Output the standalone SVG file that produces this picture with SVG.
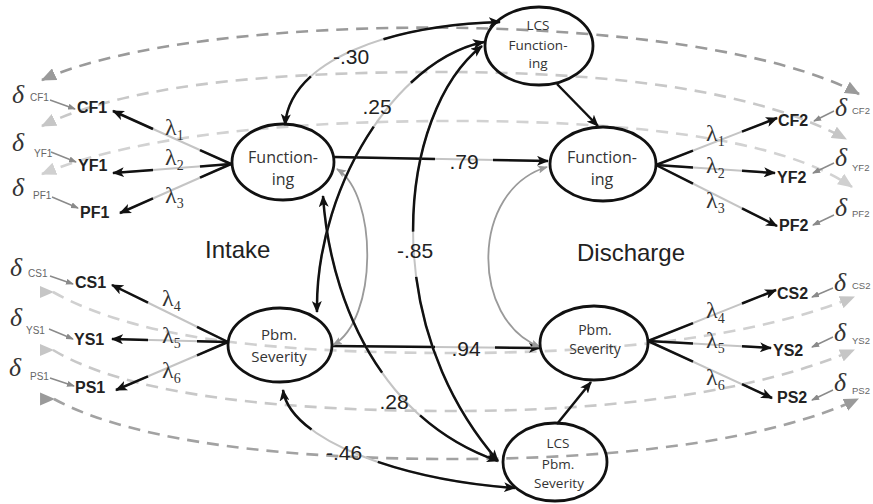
<svg xmlns="http://www.w3.org/2000/svg" width="873" height="504" viewBox="0 0 873 504">
<defs>
<style>
.ell{fill:none;stroke:#111;stroke-width:2.8}
.nt{font-family:"Open Sans","Liberation Sans",sans-serif;fill:#333;text-anchor:middle}
.ind{font-family:"Liberation Sans",Arial,sans-serif;font-weight:bold;font-size:16px;fill:#222}
.lam{font-family:"Liberation Serif","DejaVu Serif",serif;font-size:24px;fill:#333}
.ls{font-size:14px}
.dl{font-family:"Liberation Serif","DejaVu Serif",serif;font-style:italic;font-size:26px;fill:#333}
.sub{font-family:"Liberation Sans",Arial,sans-serif;font-size:10px;fill:#666}
.subr{font-family:"Liberation Sans",Arial,sans-serif;font-size:9.5px;fill:#666}
.num{font-family:"Liberation Sans",Arial,sans-serif;font-size:21px;fill:#222;text-anchor:middle}
.big{font-family:"Liberation Sans",Arial,sans-serif;font-size:24px;fill:#222}
.blk{fill:none;stroke:#111;stroke-width:2.5}
.gry{fill:none;stroke:#c4c4c4;stroke-width:2}
.cov{fill:none;stroke:#9a9a9a;stroke-width:1.8}
.err{stroke:#8a8a8a;stroke-width:1.4}
.dash{fill:none;stroke-width:2.6;stroke-dasharray:12 8}
</style>
<marker id="ah" viewBox="0 0 12 10" refX="11" refY="5" markerWidth="12" markerHeight="10" markerUnits="userSpaceOnUse" orient="auto-start-reverse"><path d="M0,0 L12,5 L0,10 L3,5 z" fill="#111"/></marker>
<marker id="ahg" viewBox="0 0 10 8" refX="9" refY="4" markerWidth="10" markerHeight="8" markerUnits="userSpaceOnUse" orient="auto-start-reverse"><path d="M0,0 L10,4 L0,8 L2,4 z" fill="#9a9a9a"/></marker>
<marker id="ahs" viewBox="0 0 8 6" refX="7" refY="3" markerWidth="8" markerHeight="6" markerUnits="userSpaceOnUse" orient="auto-start-reverse"><path d="M0,0 L8,3 L0,6 z" fill="#8a8a8a"/></marker>
<marker id="dk" viewBox="0 0 14 12" refX="13" refY="6" markerWidth="15" markerHeight="13" markerUnits="userSpaceOnUse" orient="auto-start-reverse"><path d="M0,0 L14,6 L0,12 z" fill="#9a9a9a"/></marker>
<marker id="lt" viewBox="0 0 14 12" refX="13" refY="6" markerWidth="15" markerHeight="13" markerUnits="userSpaceOnUse" orient="auto-start-reverse"><path d="M0,0 L14,6 L0,12 z" fill="#c6c6c6"/></marker>
<marker id="lt2" viewBox="0 0 14 12" refX="13" refY="6" markerWidth="15" markerHeight="13" markerUnits="userSpaceOnUse" orient="auto-start-reverse"><path d="M0,0 L14,6 L0,12 z" fill="#d0d0d0"/></marker>
<marker id="ltR" viewBox="0 0 14 12" refX="13" refY="6" markerWidth="14" markerHeight="13" markerUnits="userSpaceOnUse" orient="0"><path d="M0,0 L14,6 L0,12 z" fill="#c6c6c6"/></marker>
<marker id="dkR" viewBox="0 0 14 12" refX="13" refY="6" markerWidth="15" markerHeight="14" markerUnits="userSpaceOnUse" orient="0"><path d="M0,0 L14,6 L0,12 z" fill="#9a9a9a"/></marker>
</defs>
<rect width="873" height="504" fill="#fff"/>

<g id="connectors">
  <path class="dash" stroke="#9a9a9a" d="M42,80 C 200,8 700,8 859,94" marker-start="url(#dk)" marker-end="url(#dk)"/>
  <path class="dash" stroke="#c8c8c8" d="M42,126 C 120,88 250,72 440,72 C 620,72 760,92 846,139" marker-start="url(#lt)" marker-end="url(#lt)"/>
  <path class="dash" stroke="#d2d2d2" d="M42,174 C 120,142 250,122 440,121 C 620,120 780,137 852,187" marker-start="url(#lt2)" marker-end="url(#lt2)"/>
  <path class="dash" stroke="#d0d0d0" d="M53,292 C 130,335 250,352 440,353 C 620,354 760,335 854,297" marker-start="url(#ltR)" marker-end="url(#lt)"/>
  <path class="dash" stroke="#c8c8c8" d="M53,350 C 120,390 250,410 440,411 C 620,412 760,390 854,350" marker-start="url(#ltR)" marker-end="url(#lt)"/>
  <path class="dash" stroke="#a2a2a2" d="M54,399 C 120,435 250,458 440,459 C 620,460 770,440 858,399" marker-start="url(#dkR)" marker-end="url(#dk)"/>

  <line class="err" x1="50" y1="100" x2="75" y2="109" marker-end="url(#ahs)"/>
  <line class="err" x1="51" y1="152" x2="76" y2="162" marker-end="url(#ahs)"/>
  <line class="err" x1="52" y1="197" x2="78" y2="208" marker-end="url(#ahs)"/>
  <line class="err" x1="50" y1="276" x2="73" y2="284" marker-end="url(#ahs)"/>
  <line class="err" x1="49" y1="329" x2="73" y2="339" marker-end="url(#ahs)"/>
  <line class="err" x1="50" y1="378" x2="74" y2="386" marker-end="url(#ahs)"/>
  <line class="err" x1="834" y1="111" x2="814" y2="121" marker-end="url(#ahs)"/>
  <line class="err" x1="834" y1="163" x2="813" y2="173" marker-end="url(#ahs)"/>
  <line class="err" x1="834" y1="215" x2="813" y2="225" marker-end="url(#ahs)"/>
  <line class="err" x1="833" y1="288" x2="812" y2="297" marker-end="url(#ahs)"/>
  <line class="err" x1="833" y1="337" x2="812" y2="347" marker-end="url(#ahs)"/>
  <line class="err" x1="833" y1="390" x2="812" y2="400" marker-end="url(#ahs)"/>

  <line class="gry" x1="231" y1="164" x2="113" y2="111"/>
  <line class="gry" x1="231" y1="164" x2="113" y2="173"/>
  <line class="gry" x1="231" y1="164" x2="120" y2="213"/>
  <line class="blk" x1="231" y1="164" x2="200" y2="150.1"/>
  <line class="blk" x1="231" y1="164" x2="200" y2="166.4"/>
  <line class="blk" x1="231" y1="164" x2="200" y2="177.7"/>
  <line class="blk" x1="153" y1="129" x2="113" y2="111" marker-end="url(#ah)"/>
  <line class="blk" x1="153" y1="170" x2="113" y2="173" marker-end="url(#ah)"/>
  <line class="blk" x1="153" y1="198.4" x2="120" y2="213" marker-end="url(#ah)"/>
  <line class="gry" x1="228" y1="342" x2="112" y2="285"/>
  <line class="gry" x1="228" y1="342" x2="112" y2="339"/>
  <line class="gry" x1="228" y1="342" x2="116" y2="390"/>
  <line class="blk" x1="228" y1="342" x2="197" y2="326.8"/>
  <line class="blk" x1="228" y1="342" x2="197" y2="341.2"/>
  <line class="blk" x1="228" y1="342" x2="197" y2="355.3"/>
  <line class="blk" x1="148" y1="302.7" x2="112" y2="285" marker-end="url(#ah)"/>
  <line class="blk" x1="148" y1="339.9" x2="112" y2="339" marker-end="url(#ah)"/>
  <line class="blk" x1="148" y1="376.3" x2="116" y2="390" marker-end="url(#ah)"/>
  <line class="gry" x1="656" y1="165" x2="777" y2="118"/>
  <line class="gry" x1="656" y1="165" x2="775" y2="173"/>
  <line class="gry" x1="656" y1="165" x2="777" y2="226"/>
  <line class="blk" x1="656" y1="165" x2="693" y2="150.6"/>
  <line class="blk" x1="656" y1="165" x2="693" y2="167.5"/>
  <line class="blk" x1="656" y1="165" x2="693" y2="183.7"/>
  <line class="blk" x1="742" y1="131.6" x2="777" y2="118" marker-end="url(#ah)"/>
  <line class="blk" x1="742" y1="170.8" x2="775" y2="173" marker-end="url(#ah)"/>
  <line class="blk" x1="742" y1="208.4" x2="777" y2="226" marker-end="url(#ah)"/>
  <line class="gry" x1="648" y1="341" x2="776" y2="290"/>
  <line class="gry" x1="648" y1="341" x2="771" y2="348"/>
  <line class="gry" x1="648" y1="341" x2="772" y2="398"/>
  <line class="blk" x1="648" y1="341" x2="693" y2="323.1"/>
  <line class="blk" x1="648" y1="341" x2="693" y2="343.6"/>
  <line class="blk" x1="648" y1="341" x2="693" y2="361.7"/>
  <line class="blk" x1="742" y1="303.5" x2="776" y2="290" marker-end="url(#ah)"/>
  <line class="blk" x1="742" y1="346.3" x2="771" y2="348" marker-end="url(#ah)"/>
  <line class="blk" x1="742" y1="384.2" x2="772" y2="398" marker-end="url(#ah)"/>

  <line class="gry" x1="334" y1="157" x2="548" y2="161"/>
  <line class="blk" x1="334" y1="157" x2="435" y2="158.9"/>
  <line class="blk" x1="493" y1="160" x2="548" y2="161" marker-end="url(#ah)"/>
  <line class="gry" x1="333" y1="346" x2="540" y2="348"/>
  <line class="blk" x1="333" y1="346" x2="435" y2="347"/>
  <line class="blk" x1="495" y1="347.5" x2="540" y2="348" marker-end="url(#ah)"/>
  <line class="blk" x1="557" y1="84" x2="598" y2="126" marker-end="url(#ah)"/>
  <line class="blk" x1="557" y1="424" x2="591" y2="382" marker-end="url(#ah)"/>

  <path class="cov" d="M337,169 C 378,195 378,320 333,345" marker-start="url(#ahg)" marker-end="url(#ahg)"/>
  <path class="cov" d="M547,167 C 470,190 470,320 540,347" marker-start="url(#ahg)" marker-end="url(#ahg)"/>

  <path class="gry" d="M500,22 C 390,25 290,60 285,125"/>
  <path class="blk" d="M500,22 C 390,25 290,60 285,125" pathLength="100" stroke-dasharray="46 32 22" marker-start="url(#ah)" marker-end="url(#ah)"/>
  <path class="gry" d="M484,42 C 395,60 315,190 317,312"/>
  <path class="blk" d="M484,42 C 395,60 315,190 317,312" pathLength="100" stroke-dasharray="25 17 58" marker-start="url(#ah)" marker-end="url(#ah)"/>
  <path class="gry" d="M323,196 C 330,300 380,420 498,461"/>
  <path class="blk" d="M323,196 C 330,300 380,420 498,461" pathLength="100" stroke-dasharray="56 17 27" marker-start="url(#ah)" marker-end="url(#ah)"/>
  <path class="gry" d="M482,46 C 400,110 375,320 498,461"/>
  <path class="blk" d="M482,46 C 400,110 375,320 498,461" pathLength="100" stroke-dasharray="45 10 45" marker-start="url(#ah)" marker-end="url(#ah)"/>
  <path class="gry" d="M283,390 C 290,440 400,480 515,488"/>
  <path class="blk" d="M283,390 C 290,440 400,480 515,488" pathLength="100" stroke-dasharray="19 28 53" marker-start="url(#ah)" marker-end="url(#ah)"/>
</g>

<g id="labels">
  <text class="num" x="351" y="64">-.30</text>
  <text class="num" x="377" y="114">.25</text>
  <text class="num" x="464" y="169">.79</text>
  <text class="num" x="415" y="258">-.85</text>
  <text class="num" x="466" y="356">.94</text>
  <text class="num" x="394" y="409">.28</text>
  <text class="num" x="344" y="460">-.46</text>
  <text class="lam" x="165" y="135">λ<tspan class="ls" dy="5">1</tspan></text>
  <text class="lam" x="165" y="165">λ<tspan class="ls" dy="5">2</tspan></text>
  <text class="lam" x="165" y="203">λ<tspan class="ls" dy="5">3</tspan></text>
  <text class="lam" x="162" y="306">λ<tspan class="ls" dy="5">4</tspan></text>
  <text class="lam" x="162" y="343">λ<tspan class="ls" dy="5">5</tspan></text>
  <text class="lam" x="162" y="378">λ<tspan class="ls" dy="5">6</tspan></text>
  <text class="lam" x="706" y="141">λ<tspan class="ls" dy="5">1</tspan></text>
  <text class="lam" x="706" y="173">λ<tspan class="ls" dy="5">2</tspan></text>
  <text class="lam" x="706" y="208">λ<tspan class="ls" dy="5">3</tspan></text>
  <text class="lam" x="706" y="318">λ<tspan class="ls" dy="5">4</tspan></text>
  <text class="lam" x="706" y="348">λ<tspan class="ls" dy="5">5</tspan></text>
  <text class="lam" x="706" y="385">λ<tspan class="ls" dy="5">6</tspan></text>
  <text class="big" x="205" y="258">Intake</text>
  <text class="big" x="577" y="261">Discharge</text>
</g>

<g id="n-f1"><ellipse class="ell" cx="283" cy="162" rx="51" ry="38"/><text class="nt" font-size="16" x="283" y="163">Function-</text><text class="nt" font-size="16" x="283" y="185">ing</text></g>
<g id="n-ps1"><ellipse class="ell" cx="280" cy="345" rx="52" ry="37"/><text class="nt" font-size="15" x="279" y="340">Pbm.</text><text class="nt" font-size="15" x="279" y="362">Severity</text></g>
<g id="n-f2"><ellipse class="ell" cx="603" cy="164" rx="53" ry="37"/><text class="nt" font-size="16" x="602" y="163">Function-</text><text class="nt" font-size="16" x="602" y="185">ing</text></g>
<g id="n-ps2"><ellipse class="ell" cx="594" cy="343" rx="54" ry="37"/><text class="nt" font-size="14" x="595" y="335">Pbm.</text><text class="nt" font-size="14" x="595" y="354">Severity</text></g>
<g id="n-lcsf"><ellipse class="ell" cx="539" cy="46" rx="54" ry="39"/><text class="nt" font-size="13.5" x="538" y="30">LCS</text><text class="nt" font-size="13.5" x="538" y="50">Function-</text><text class="nt" font-size="13.5" x="538" y="68">ing</text></g>
<g id="n-lcsps"><ellipse class="ell" cx="555" cy="462" rx="52" ry="39"/><text class="nt" font-size="13.5" x="558" y="448">LCS</text><text class="nt" font-size="13.5" x="558" y="469">Pbm.</text><text class="nt" font-size="13.5" x="559" y="488">Severity</text></g>

<g id="i-cf1"><text class="ind" x="77" y="113">CF1</text></g>
<g id="i-yf1"><text class="ind" x="78" y="171">YF1</text></g>
<g id="i-pf1"><text class="ind" x="80" y="218">PF1</text></g>
<g id="i-cs1"><text class="ind" x="75" y="288">CS1</text></g>
<g id="i-ys1"><text class="ind" x="74" y="345">YS1</text></g>
<g id="i-ps1"><text class="ind" x="75" y="393">PS1</text></g>
<g id="i-cf2"><text class="ind" x="778" y="126">CF2</text></g>
<g id="i-yf2"><text class="ind" x="777" y="183">YF2</text></g>
<g id="i-pf2"><text class="ind" x="779" y="231">PF2</text></g>
<g id="i-cs2"><text class="ind" x="777" y="299">CS2</text></g>
<g id="i-ys2"><text class="ind" x="773" y="356">YS2</text></g>
<g id="i-ps2"><text class="ind" x="777" y="403">PS2</text></g>

<g id="e-cf1"><text class="dl" x="12" y="103">δ</text><text class="sub" x="30" y="101">CF1</text></g>
<g id="e-yf1"><text class="dl" x="12" y="151">δ</text><text class="sub" x="34" y="157">YF1</text></g>
<g id="e-pf1"><text class="dl" x="12" y="196">δ</text><text class="sub" x="33" y="199">PF1</text></g>
<g id="e-cs1"><text class="dl" x="10" y="276">δ</text><text class="sub" x="28" y="277">CS1</text></g>
<g id="e-ys1"><text class="dl" x="10" y="326">δ</text><text class="sub" x="26" y="334">YS1</text></g>
<g id="e-ps1"><text class="dl" x="9" y="376">δ</text><text class="sub" x="30" y="380">PS1</text></g>
<g id="e-cf2"><text class="dl" x="835" y="116">δ</text><text class="subr" x="852" y="114">CF2</text></g>
<g id="e-yf2"><text class="dl" x="835" y="166">δ</text><text class="subr" x="852" y="171">YF2</text></g>
<g id="e-pf2"><text class="dl" x="835" y="216">δ</text><text class="subr" x="852" y="217">PF2</text></g>
<g id="e-cs2"><text class="dl" x="834" y="291">δ</text><text class="subr" x="852" y="289">CS2</text></g>
<g id="e-ys2"><text class="dl" x="834" y="341">δ</text><text class="subr" x="852" y="344">YS2</text></g>
<g id="e-ps2"><text class="dl" x="834" y="391">δ</text><text class="subr" x="852" y="394">PS2</text></g>
</svg>
